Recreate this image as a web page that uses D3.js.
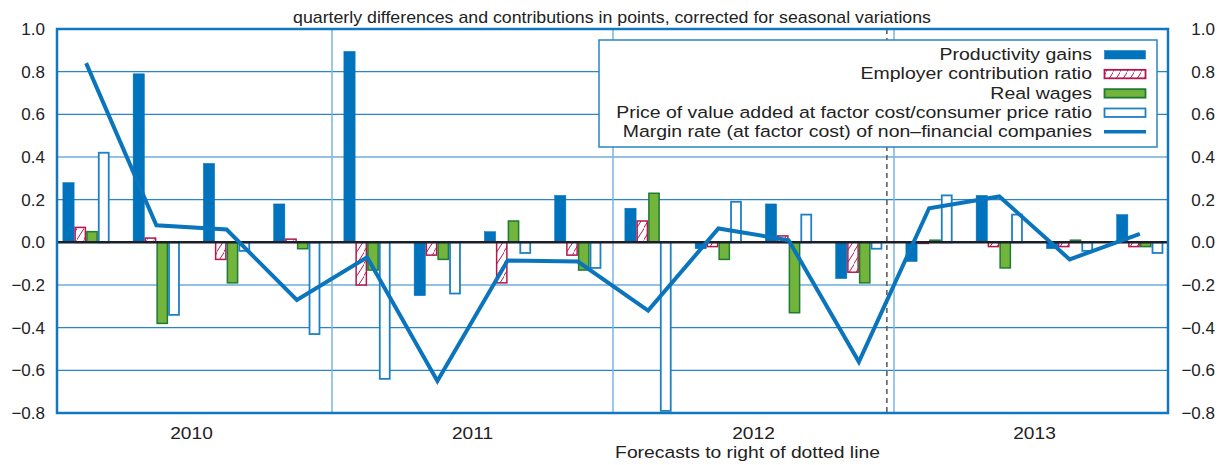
<!DOCTYPE html>
<html>
<head>
<meta charset="utf-8">
<script src="https://cdn.jsdelivr.net/npm/d3@7"></script>
<style>
  body { margin: 0; background: #fff; }
  text { font-family: "Liberation Sans", Arial, sans-serif; fill: #222; }
</style>
</head>
<body>
<div id="chart"></div>
<script>
// Quarters and series (points)
const quarters = ['2010Q1', '2010Q2', '2010Q3', '2010Q4',
    '2011Q1', '2011Q2', '2011Q3', '2011Q4',
    '2012Q1', '2012Q2', '2012Q3', '2012Q4',
    '2013Q1', '2013Q2', '2013Q3', '2013Q4'];
const years = ['2010', '2011', '2012', '2013'];

const productivity = [0.28, 0.79, 0.37, 0.18, 0.895, -0.25, 0.05, 0.22, 0.16, -0.03, 0.18, -0.17, -0.09, 0.22, -0.03, 0.13];
const employer = [0.07, 0.02, -0.08, 0.015, -0.20, -0.06, -0.19, -0.06, 0.10, -0.02, 0.03, -0.14, -0.005, -0.02, -0.02, -0.02];
const wages = [0.05, -0.38, -0.19, -0.03, -0.13, -0.08, 0.10, -0.13, 0.23, -0.08, -0.33, -0.19, 0.01, -0.12, 0.01, -0.02];
const price = [0.42, -0.34, -0.04, -0.43, -0.64, -0.24, -0.05, -0.12, -0.79, 0.19, 0.13, -0.03, 0.22, 0.13, -0.04, -0.05];
const margin = [0.84, 0.08, 0.06, -0.27, -0.07, -0.65, -0.085, -0.09, -0.32, 0.065, 0.01, -0.56, 0.16, 0.215, -0.08, 0.04];

const yTicks = [-0.8, -0.6, -0.4, -0.2, 0.0, 0.2, 0.4, 0.6, 0.8, 1.0];
const lastActual = '2012Q4';

const seriesNames = ['Productivity gains', 'Employer contribution ratio', 'Real wages',
    'Price of value added at factor cost/consumer price ratio'];
const lineName = 'Margin rate (at factor cost) of non\u2013financial companies';
const titleText = 'quarterly differences and contributions in points, corrected for seasonal variations';
const footText = 'Forecasts to right of dotted line';

// Dimensions
const width = 1223, height = 465;
const plot = {left: 57, right: 1168, top: 29, bottom: 413};

const blue = '#0a75bc', crimson = '#b5174b', green = '#72b43c', darkGreen = '#1e7a34';

const svg = d3.select('#chart')
    .append('svg')
    .attr('width', width)
    .attr('height', height);

// hatch for employer contribution
svg.append('defs').append('pattern')
    .attr('id', 'hatch')
    .attr('patternUnits', 'userSpaceOnUse')
    .attr('width', 7)
    .attr('height', 12)
    .call(p => p.append('rect').attr('width', 7).attr('height', 12).attr('fill', '#fff'))
    .append('path')
    .attr('d', 'M-1,13 L8,-1')
    .attr('stroke', crimson)
    .attr('stroke-width', 1);

// Scales
const x = d3.scaleBand()
    .domain(quarters)
    .range([plot.left - 6, plot.right + 7])
    .paddingInner(0.331)
    .paddingOuter(0.1655);

const sub = d3.scaleBand()
    .domain(d3.range(4))
    .range([0, x.bandwidth()]);

const y = d3.scaleLinear()
    .domain([-0.8, 1.0])
    .range([plot.bottom, plot.top]);

function stretched(g, px, py, str, size, anchor, sx) {
    return g.append('text')
        .attr('transform', 'translate(' + px + ',' + py + ') scale(' + sx + ',1)')
        .attr('text-anchor', anchor)
        .style('font-size', size + 'px')
        .text(str);
}

// Grid lines
svg.append('g')
    .selectAll('line')
    .data(yTicks.filter(d => d !== 0 && d !== 1.0 && d !== -0.8))
    .enter()
    .append('line')
    .attr('x1', plot.left).attr('x2', plot.right)
    .attr('y1', d => y(d)).attr('y2', d => y(d))
    .attr('stroke', '#2a84c5')
    .attr('stroke-width', 1.2);

// Year separators
const step = x.step();
svg.append('g')
    .selectAll('line')
    .data(quarters.filter((q, i) => i > 0 && q.endsWith('Q1')))
    .enter()
    .append('line')
    .attr('x1', d => x(d) + x.bandwidth() / 2 - step / 2)
    .attr('x2', d => x(d) + x.bandwidth() / 2 - step / 2)
    .attr('y1', plot.top).attr('y2', plot.bottom)
    .attr('stroke', '#7ab6e0')
    .attr('stroke-width', 1.5);

// Forecast line
const fx = x(lastActual) + x.bandwidth() + 4.5;
svg.append('line')
    .attr('x1', fx).attr('x2', fx)
    .attr('y1', plot.top).attr('y2', plot.bottom)
    .attr('stroke', '#555')
    .attr('stroke-width', 1.5)
    .attr('stroke-dasharray', '5,4');

// Bars
const seriesStyle = [
    {values: productivity, fill: '#0073bc', stroke: '#0073bc', sw: 0.5},
    {values: employer, fill: 'url(#hatch)', stroke: crimson, sw: 1.5},
    {values: wages, fill: green, stroke: darkGreen, sw: 1.5},
    {values: price, fill: '#fff', stroke: '#1f80c4', sw: 1.8}
];

seriesStyle.forEach(function (s, k) {
    svg.append('g')
        .selectAll('rect')
        .data(quarters)
        .enter()
        .append('rect')
        .attr('x', (q) => x(q) + sub(k) + s.sw / 2)
        .attr('width', sub.bandwidth() - s.sw)
        .attr('y', (q, i) => Math.min(y(s.values[i]), y(0)))
        .attr('height', (q, i) => Math.abs(y(s.values[i]) - y(0)))
        .attr('fill', s.fill)
        .attr('stroke', s.stroke)
        .attr('stroke-width', s.sw);
});

// Zero line
svg.append('line')
    .attr('x1', plot.left).attr('x2', plot.right)
    .attr('y1', y(0)).attr('y2', y(0))
    .attr('stroke', '#1b1e2b')
    .attr('stroke-width', 2.5);

// Margin rate line
const line = d3.line()
    .x((d, i) => x(quarters[i]) + x.bandwidth() / 2)
    .y(d => y(d));

svg.append('path')
    .datum(margin)
    .attr('d', line)
    .attr('fill', 'none')
    .attr('stroke', blue)
    .attr('stroke-width', 4)
    .attr('stroke-linejoin', 'miter');

// Frame
svg.append('rect')
    .attr('x', plot.left).attr('y', plot.top)
    .attr('width', plot.right - plot.left)
    .attr('height', plot.bottom - plot.top)
    .attr('fill', 'none')
    .attr('stroke', '#1177bf')
    .attr('stroke-width', 2.5);

// Y labels, both sides
const fmt = d3.format('.1f');
const yl = svg.append('g');
yTicks.forEach(function (t) {
    stretched(yl, 45, y(t) + 6, fmt(t), 17, 'end', 1.0);
    stretched(yl, 1215, y(t) + 6, fmt(t), 17, 'end', 1.0);
});

// Year labels
const xl = svg.append('g');
years.forEach(function (yr) {
    const cx = (x(yr + 'Q1') + x(yr + 'Q4') + x.bandwidth()) / 2;
    stretched(xl, cx, 438.5, yr, 16.5, 'middle', 1.16);
});
stretched(xl, (x('2012Q1') + x('2012Q4') + x.bandwidth()) / 2 - 6, 457.5, footText, 16.5, 'middle', 1.17);

// Title
stretched(svg, 612, 23, titleText, 16, 'middle', 1.11);

// Legend
const legend = svg.append('g');
legend.append('rect')
    .attr('x', 599).attr('y', 40)
    .attr('width', 558).attr('height', 107)
    .attr('fill', '#fff')
    .attr('stroke', '#2a84c5')
    .attr('stroke-width', 1.5);

const rowY = d3.scaleLinear().domain([0, 4]).range([60, 137.3]);
seriesNames.forEach(function (name, k) {
    const s = seriesStyle[k];
    stretched(legend, 1092, rowY(k), name, 16.5, 'end', 1.18);
    legend.append('rect')
        .attr('x', 1104.5).attr('y', rowY(k) - 9.5)
        .attr('width', 41).attr('height', 8.5)
        .attr('fill', s.fill)
        .attr('stroke', s.stroke)
        .attr('stroke-width', k === 0 ? 0.5 : 1.8);
});
stretched(legend, 1092, rowY(4), lineName, 16.5, 'end', 1.18);
legend.append('line')
    .attr('x1', 1104).attr('x2', 1146)
    .attr('y1', rowY(4) - 5.5).attr('y2', rowY(4) - 5.5)
    .attr('stroke', blue)
    .attr('stroke-width', 3.5);
</script>
</body>
</html>
